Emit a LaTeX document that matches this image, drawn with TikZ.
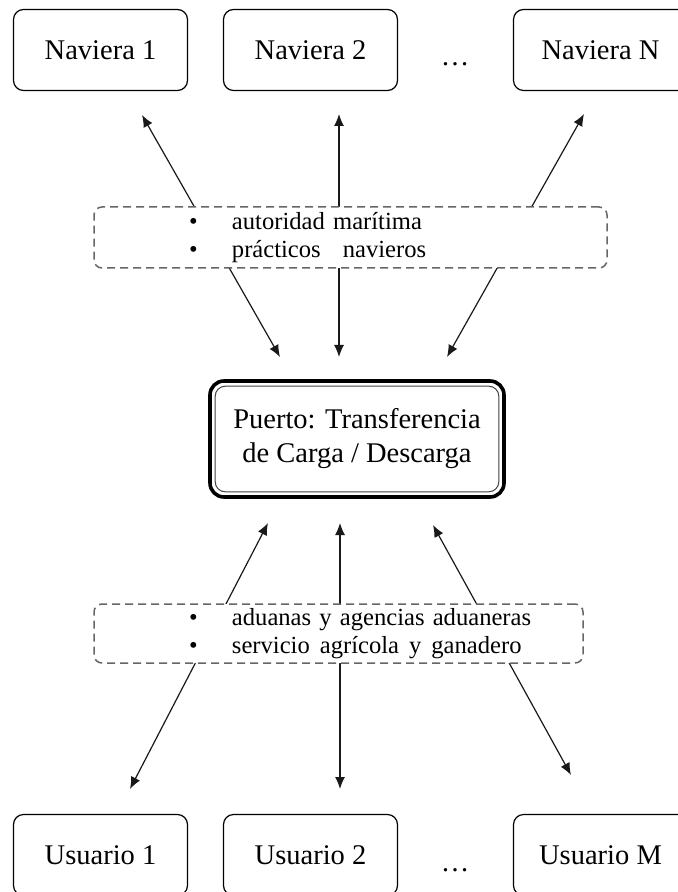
\documentclass[tikz,border=0pt]{standalone}
\usepackage{fontspec}
\setmainfont{Liberation Serif}
\usetikzlibrary{arrows.meta,calc}
\newcommand{\vineta}[1]{\hspace*{47.5pt}\makebox[21.5pt][l]{\textbullet}#1}

\begin{document}
\begin{tikzpicture}[x=0.5pt, y=-0.5pt,
		caja/.style = {shape=rectangle, rounded corners=5pt, draw, line width=0.6pt,
			minimum width=87pt, minimum height=40.5pt, inner sep=0pt,
			font=\fontsize{14.25}{17}\selectfont},
		lista/.style = {shape=rectangle, rounded corners=4pt, draw=black!60,
			dash pattern=on 4pt off 2.5pt, line width=0.75pt, fill=white,
			inner sep=0pt, align=left, font=\fontsize{12.3}{14.3}\selectfont},
		puntos/.style = {anchor=base, inner sep=0pt, font=\fontsize{14.25}{17}\selectfont},
		flecha/.style = {{Latex[length=6pt,width=5pt]}-{Latex[length=6pt,width=5pt]},
			line width=0.6pt, black!90}]
		\useasboundingbox (0,0) rectangle (678,892);
		\clip (0,0) rectangle (678,892);
		\node[caja] (nav1) at (100.5,50) {Naviera 1};
		\node[caja] (nav2) at (310.5,50) {Naviera 2};
		\node[puntos] (puntos1) at (455,66) {…};
		\node[caja] (navN) at (600.5,50) {Naviera N};
		\node[caja, minimum width=147pt, minimum height=58pt, rounded corners=7pt,
			line width=1.8pt, align=center] (puerto) at (357,439)
			{Puerto: Transferencia\\de Carga / Descarga};
		\draw[line width=0.5pt, rounded corners=5pt, black!75]
			($(puerto.north west)+(7,7)$) rectangle ($(puerto.south east)+(-7,-7)$);
		\node[caja] (usr1) at (100.5,855) {Usuario 1};
		\node[caja] (usr2) at (310.5,855) {Usuario 2};
		\node[puntos] (puntos2) at (455,871) {…};
		\node[caja] (usrM) at (600.5,855) {Usuario M};
		\coordinate (n1) at (142,115);  \coordinate (p1) at (280,357);
		\coordinate (n2) at (339,114);  \coordinate (p2) at (339,357);
		\coordinate (n3) at (584,114);  \coordinate (p3) at (447,357);
		\coordinate (q1) at (268,523);  \coordinate (u1) at (130,789);
		\coordinate (q2) at (340,523);  \coordinate (u2) at (340,789);
		\coordinate (q3) at (433,525);  \coordinate (u3) at (571,775);
		\draw[flecha] (n1) -- (p1);
		\draw[flecha] (n2) -- (p2);
		\draw[flecha] (n3) -- (p3);
		\draw[flecha] (q1) -- (u1);
		\draw[flecha] (q2) -- (u2);
		\draw[flecha] (q3) -- (u3);
		\node[lista, minimum width=256.5pt, minimum height=30.5pt, text width=256.5pt]
			(autoridades) at (350.5,237.5)
			{\vineta{autoridad marítima}\\\vineta{prácticos\hspace{11pt}navieros}};
		\node[lista, minimum width=244.5pt, minimum height=29.5pt, text width=244.5pt]
			(servicios) at (338.5,633.5)
			{\vineta{aduanas y agencias aduaneras}\\\vineta{servicio\hspace{5pt}agrícola\hspace{5pt}y\hspace{5pt}ganadero}};
	\end{tikzpicture}
\end{document}
